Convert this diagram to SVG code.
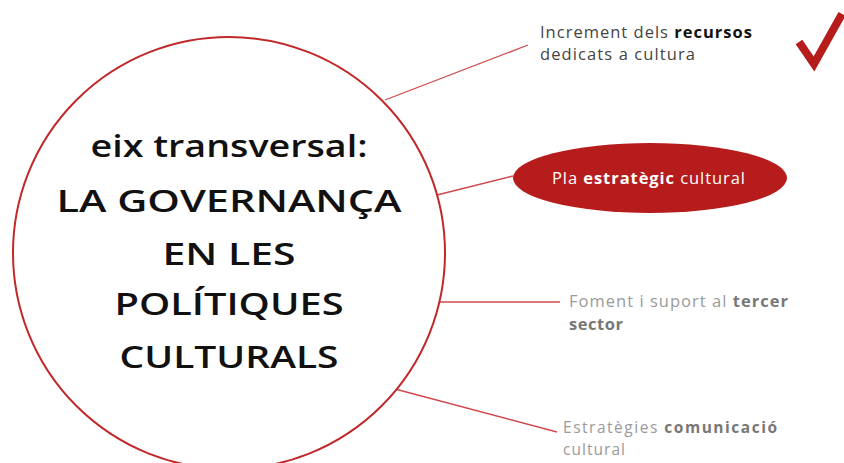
<svg xmlns="http://www.w3.org/2000/svg" width="844" height="463" viewBox="0 0 844 463">
<style>
.conn line{stroke:#d0484a;stroke-width:1.3;fill:none}
.title{font-family:"Open Sans","Noto Sans",sans-serif;font-size:31px;fill:#111;text-anchor:middle;font-weight:600}
.lbl{font-family:"Open Sans","Noto Sans",sans-serif;font-size:16.5px}
.sm{font-size:15.5px}
.b{font-weight:700}
</style>
<rect width="844" height="463" fill="#fff"/>
<g id="connectors" class="conn">
<line x1="385" y1="100" x2="528" y2="45"/>
<line x1="437" y1="195" x2="513" y2="176"/>
<line x1="440" y1="302" x2="560" y2="302"/>
<line x1="395" y1="389" x2="557" y2="432"/>
</g>
<g id="center">
<circle cx="229" cy="253" r="216" fill="#fff" stroke="#c0282a" stroke-width="2"/>
<text class="title" x="229" y="157" textLength="277" lengthAdjust="spacingAndGlyphs">eix transversal:</text>
<text class="title" x="229" y="212" textLength="345" lengthAdjust="spacingAndGlyphs">LA GOVERNANÇA</text>
<text class="title" x="229" y="265" textLength="133" lengthAdjust="spacingAndGlyphs">EN LES</text>
<text class="title" x="229" y="315" textLength="229" lengthAdjust="spacingAndGlyphs">POLÍTIQUES</text>
<text class="title" x="229" y="368" textLength="219" lengthAdjust="spacingAndGlyphs">CULTURALS</text>
</g>
<g id="n-recursos">
<text class="lbl" x="540" y="38" fill="#444" textLength="212">Increment dels <tspan class="b" fill="#111">recursos</tspan></text>
<text class="lbl" x="540" y="60" fill="#444" textLength="155">dedicats a cultura</text>
</g>
<g id="check">
<path d="M799,42 L814,64 L842,14" fill="none" stroke="#b71c1c" stroke-width="8" stroke-linejoin="miter"/>
</g>
<g id="n-pla">
<ellipse cx="650" cy="178" rx="137" ry="35" fill="#b71c1c"/>
<text class="lbl" x="552" y="184" fill="#fff" textLength="193">Pla <tspan class="b">estratègic</tspan> cultural</text>
</g>
<g id="n-tercer">
<text class="lbl" x="569" y="307" fill="#9a9a9a" textLength="219">Foment i suport al <tspan class="b" fill="#777">tercer</tspan></text>
<text class="lbl b" x="569" y="330" fill="#777" textLength="54">sector</text>
</g>
<g id="n-comunicacio">
<text class="lbl sm" x="563" y="433" fill="#9a9a9a" textLength="214">Estratègies <tspan class="b" fill="#777">comunicació</tspan></text>
<text class="lbl sm" x="563" y="455" fill="#9a9a9a" textLength="62">cultural</text>
</g>
</svg>
